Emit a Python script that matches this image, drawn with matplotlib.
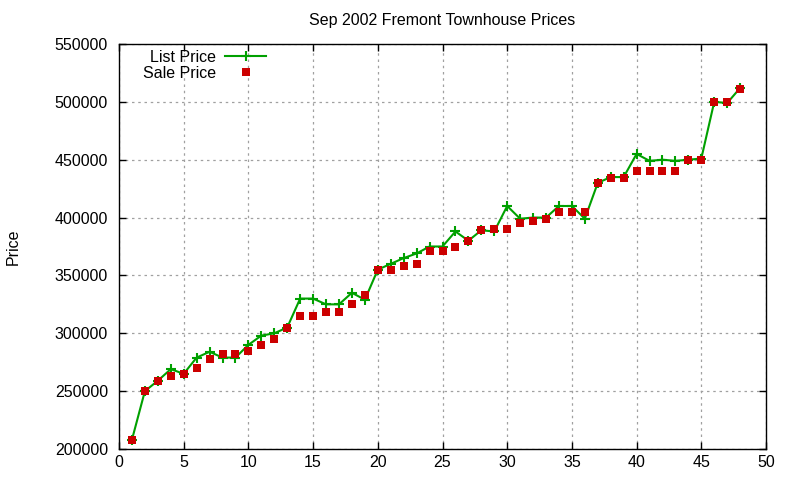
# Sep 2002 Fremont townhouse list vs sale prices

import matplotlib
matplotlib.use("Agg")
from matplotlib import pyplot as plt
from matplotlib.ticker import MultipleLocator, FormatStrFormatter

plt.rcParams['font.family'] = ['Liberation Sans', 'DejaVu Sans']
plt.rcParams['font.size'] = 11.5

house_no = list(range(1, 49))

list_price = [208000, 250000, 259000, 269000, 265000, 279000, 284000, 279000,
              279000, 290000, 298000, 300000, 305000, 330000, 330000, 325000,
              325000, 335000, 329000, 355000, 360000, 365000, 369000, 375000,
              375000, 388000, 380000, 389000, 388000, 410000, 399000, 400000,
              400000, 410000, 410000, 399000, 430000, 435000, 435000, 455000,
              449000, 450000, 449000, 450000, 451000, 500000, 499000, 512000]

sale_price = [208000, 250000, 259000, 263000, 265000, 270000, 278000, 282000,
              282000, 285000, 290000, 295000, 305000, 315000, 315000, 318000,
              318000, 325000, 333000, 355000, 355000, 358000, 360000, 371000,
              371000, 375000, 380000, 389000, 390000, 390000, 395000, 397000,
              399000, 405000, 405000, 405000, 430000, 434000, 434000, 440000,
              440000, 440000, 440000, 450000, 450000, 500000, 500000, 511000]

green = '#00a000'
red = '#cc0000'

fig = plt.figure(figsize=(8, 4.8), dpi=100)
ax = fig.add_axes([119/800, 1 - 449/480, (766-119)/800, (449-44)/480])

ax.plot(house_no, list_price, color=green, lw=1.5, marker='+',
        markersize=6.5, markeredgewidth=1.5, label='List Price', zorder=3)
ax.plot(house_no, sale_price, color=red, lw=0, marker='s',
        markersize=6.3, markeredgewidth=0, label='Sale Price', zorder=4)

ax.set_xlim(0, 50)
ax.set_ylim(200000, 550000)
ax.xaxis.set_major_locator(MultipleLocator(5))
ax.yaxis.set_major_locator(MultipleLocator(50000))
ax.yaxis.set_major_formatter(FormatStrFormatter('%d'))

ax.tick_params(direction='in', length=5, width=1, top=True, right=True,
               labelsize=11.5)
ax.tick_params(axis='y', pad=8)
ax.tick_params(axis='x', pad=4)
for s in ax.spines.values():
    s.set_linewidth(1)

ax.grid(True, color='#a0a0a0', linestyle=(0, (2, 3)), lw=0.9)
ax.set_axisbelow(True)

ax.set_title('Sep 2002 Fremont Townhouse Prices', fontsize=11.5, pad=14)
ax.set_ylabel('Price', fontsize=11.5)
ax.yaxis.set_label_coords(-0.152, 0.5)

leg = ax.legend(loc='upper left', bbox_to_anchor=(0.037, 0.985),
                frameon=False, markerfirst=False, handlelength=2.6,
                handletextpad=0.55, labelspacing=0.05, borderpad=0,
                fontsize=11.5, borderaxespad=0)

fig.savefig('out.png', dpi=100)
